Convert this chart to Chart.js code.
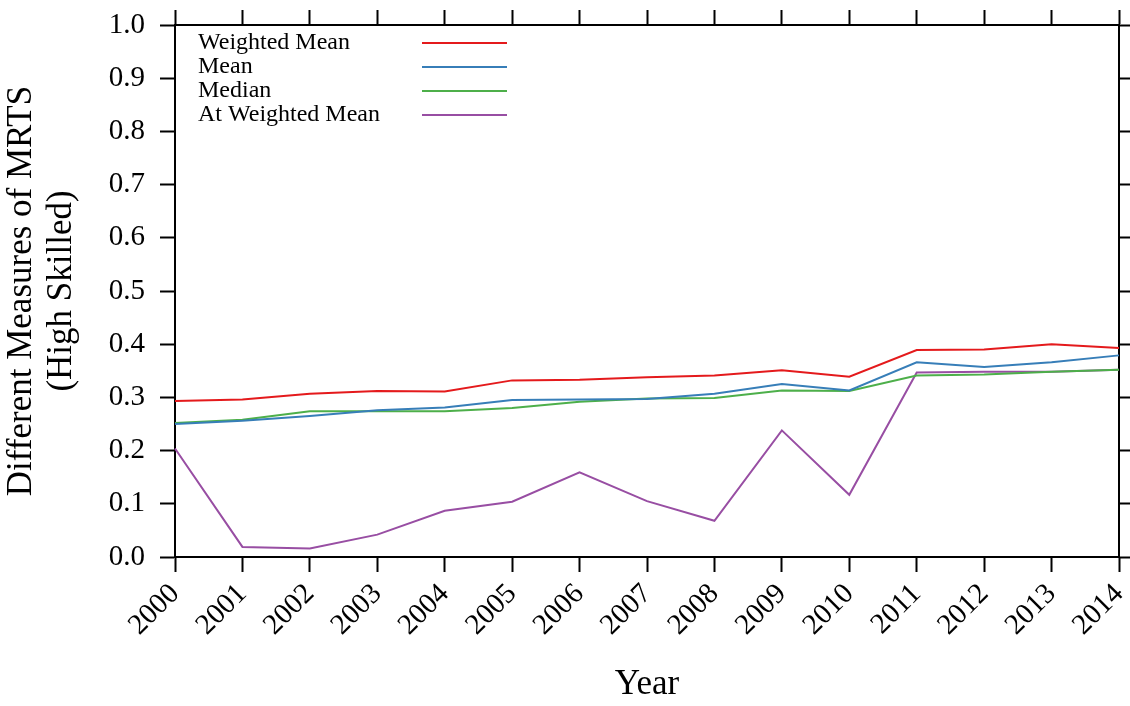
<!DOCTYPE html>
<html>
<head>
<meta charset="utf-8">
<script src="https://cdn.jsdelivr.net/npm/chart.js@4/dist/chart.umd.min.js"></script>
<style>
  html, body { margin: 0; padding: 0; background: #ffffff; }
  #wrap { width: 1130px; height: 706px; }
</style>
</head>
<body>
<div id="wrap"><canvas id="c" width="1130" height="706"></canvas></div>
<script>
// Years on the horizontal axis
const years = ['2000','2001','2002','2003','2004','2005','2006','2007','2008','2009','2010','2011','2012','2013','2014'];

// MRTS measures, high-skilled workers
const weightedMean   = [0.293,0.296,0.307,0.312,0.311,0.332,0.333,0.338,0.341,0.351,0.339,0.389,0.390,0.400,0.393];
const mean           = [0.250,0.256,0.265,0.276,0.281,0.295,0.296,0.297,0.307,0.325,0.313,0.366,0.357,0.366,0.379];
const median         = [0.252,0.258,0.274,0.274,0.274,0.280,0.292,0.298,0.299,0.313,0.312,0.341,0.343,0.348,0.352];
const atWeightedMean = [0.204,0.019,0.016,0.042,0.087,0.104,0.159,0.105,0.068,0.238,0.117,0.347,0.348,0.348,0.352];

const seriesLabels = ['Weighted Mean','Mean','Median','At Weighted Mean'];
const seriesColors = ['#e41a1c','#377eb8','#4daf4a','#984ea3'];

// Y-axis range and tick step
const yMin = 0, yMax = 1, yStep = 0.1;

const FONT = "'Liberation Serif', 'Times New Roman', serif";

function makeSet(i, values) {
  return {
    label: seriesLabels[i],
    data: values,
    borderColor: seriesColors[i],
    backgroundColor: seriesColors[i],
    borderWidth: 2,
    pointRadius: 0,
    pointHoverRadius: 0,
    tension: 0,
    fill: false
  };
}

// Legend drawn inside the plot: label text on the left, line sample on the right
const innerLegend = {
  id: 'innerLegend',
  afterDatasetsDraw(chart) {
    const { ctx, chartArea } = chart;
    ctx.save();
    ctx.font = "24px " + FONT;
    ctx.textBaseline = 'middle';
    ctx.textAlign = 'left';
    chart.data.datasets.forEach((ds, i) => {
      const y = chartArea.top + 18 + i * 24;
      ctx.fillStyle = '#000';
      ctx.fillText(ds.label, chartArea.left + 23, y);
      ctx.strokeStyle = ds.borderColor;
      ctx.lineWidth = 2;
      ctx.beginPath();
      ctx.moveTo(chartArea.left + 247, y);
      ctx.lineTo(chartArea.left + 332, y);
      ctx.stroke();
    });
    ctx.restore();
  }
};

const axisGrid = (len) => ({
  drawOnChartArea: false,
  drawTicks: true,
  tickLength: len,
  tickWidth: 2,
  tickColor: '#000'
});
const axisBorder = { display: true, color: '#000', width: 2 };

// keep tick labels from pulling the plot area inwards
function noLabelPadding(s) {
  s.paddingLeft = 0; s.paddingRight = 0; s.paddingTop = 0; s.paddingBottom = 0;
}

new Chart(document.getElementById('c'), {
  type: 'line',
  data: {
    labels: years,
    datasets: [
      makeSet(0, weightedMean),
      makeSet(1, mean),
      makeSet(2, median),
      makeSet(3, atWeightedMean)
    ]
  },
  options: {
    responsive: false,
    animation: false,
    events: [],
    layout: { padding: 0 },
    plugins: {
      legend: { display: false },
      tooltip: { enabled: false }
    },
    scales: {
      x: {
        type: 'category',
        position: 'bottom',
        offset: false,
        grid: axisGrid(15),
        border: axisBorder,
        ticks: {
          color: '#000',
          font: { family: FONT, size: 29 },
          minRotation: 45,
          maxRotation: 45,
          autoSkip: false,
          padding: 5
        },
        title: {
          display: true,
          text: 'Year',
          color: '#000',
          font: { family: FONT, size: 35 },
          padding: { top: 0, bottom: 0 }
        },
        afterFit(s) { s.height = 149; noLabelPadding(s); }
      },
      xTop: {
        type: 'category',
        position: 'top',
        labels: years,
        offset: false,
        grid: axisGrid(15),
        border: axisBorder,
        ticks: { display: false },
        afterFit(s) { s.height = 25; noLabelPadding(s); }
      },
      y: {
        type: 'linear',
        position: 'left',
        min: yMin,
        max: yMax,
        grid: axisGrid(15),
        border: axisBorder,
        ticks: {
          stepSize: yStep,
          color: '#000',
          font: { family: FONT, size: 29 },
          padding: 15,
          callback: (v) => Number(v).toFixed(1)
        },
        title: {
          display: true,
          text: ['Different Measures of MRTS', '(High Skilled)'],
          color: '#000',
          font: { family: FONT, size: 35, lineHeight: 1.14 },
          padding: { top: 2, bottom: 0 }
        },
        afterFit(s) { s.width = 175; noLabelPadding(s); }
      },
      yRight: {
        type: 'linear',
        position: 'right',
        min: yMin,
        max: yMax,
        grid: axisGrid(12),
        border: axisBorder,
        ticks: { display: false, stepSize: yStep },
        afterFit(s) { s.width = 11; noLabelPadding(s); }
      }
    }
  },
  plugins: [innerLegend]
});
</script>
</body>
</html>
